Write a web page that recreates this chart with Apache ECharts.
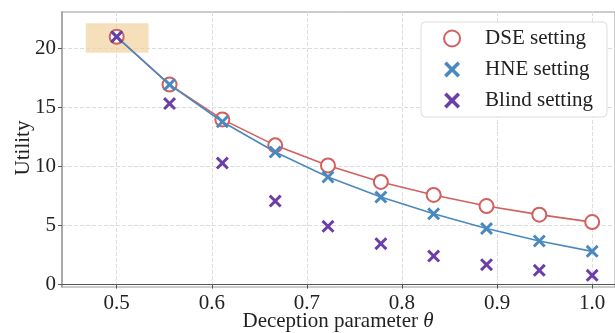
<!DOCTYPE html>
<html>
<head>
<meta charset="utf-8">
<script src="https://cdn.jsdelivr.net/npm/echarts@6/dist/echarts.min.js"></script>
<style>
  html, body { margin: 0; padding: 0; background: #fff; }
  #chart { width: 615px; height: 333px; }
</style>
</head>
<body>
<div id="chart"></div>
<script>
// deception parameter values
const thetas = [0.5, 0.5556, 0.6111, 0.6667, 0.7222, 0.7778, 0.8333, 0.8889, 0.9444, 1.0]
const dseUtility = [21.0, 16.95, 14.0, 11.8, 10.1, 8.7, 7.6, 6.66, 5.93, 5.3]
const hneUtility = [21.0, 16.95, 13.8, 11.24, 9.12, 7.42, 6.0, 4.75, 3.7, 2.82]
const blindUtility = [21.0, 15.34, 10.3, 7.08, 4.94, 3.47, 2.42, 1.69, 1.21, 0.79]
const xTicks = [0.5, 0.6, 0.7, 0.8, 0.9, 1.0]
const yTicks = [0, 5, 10, 15, 20]
// highlighted region around theta = 0.5
const highlightBox = [[0.468, 19.7], [0.533, 22.1]]

const FONT = '"Liberation Serif", serif'
const RED = '#d1605e'
const BLUE = '#4a89c0'
const PURPLE = '#6c3fa8'
const CROSS = 'path://M1.6,0 L5,3.4 L8.4,0 L10,1.6 L6.6,5 L10,8.4 L8.4,10 L5,6.6 L1.6,10 L0,8.4 L3.4,5 L0,1.6 Z'

const pairs = ys => thetas.map((t, i) => [t, ys[i]])

const chart = echarts.init(document.getElementById('chart'))

chart.setOption({
  animation: false,
  grid: {
    left: 62, right: 0, top: 12, bottom: 46,
    outerBoundsMode: 'none',
    containLabel: false,
    show: true, borderColor: '#999', borderWidth: 1
  },
  // axis titles placed by hand, the v6 auto-placement pushes them too far out
  graphic: [
    {
      type: 'text', x: 338, y: 321,
      style: {
        text: 'Deception parameter {i|θ}',
        font: '21px "Liberation Serif", serif', fill: '#222',
        align: 'center', verticalAlign: 'middle',
        rich: { i: { fontFamily: FONT, fontStyle: 'italic', fontSize: 21, fill: '#222', fontWeight: 'normal' } }
      }
    },
    {
      type: 'text', x: 23, y: 148, rotation: Math.PI / 2,
      style: {
        text: 'Utility', font: '21px "Liberation Serif", serif', fill: '#222',
        align: 'center', verticalAlign: 'middle'
      }
    }
  ],
  legend: {
    right: 8, top: 22,
    orient: 'vertical',
    backgroundColor: '#fff',
    borderColor: '#ddd', borderWidth: 1, borderRadius: 4,
    padding: [6, 14, 6, 22],
    itemWidth: 16, itemHeight: 16, itemGap: 10,
    textStyle: { fontFamily: FONT, fontSize: 21, color: '#222', padding: [0, 0, 0, 20] },
    data: [
      { name: 'DSE setting', icon: 'emptyCircle' },
      { name: 'HNE setting', icon: CROSS },
      { name: 'Blind setting', icon: CROSS }
    ]
  },
  xAxis: {
    type: 'value',
    min: 0.4425, max: 1.024,
    axisLine: { show: true, lineStyle: { color: '#555', width: 1.2 } },
    axisTick: { show: true, length: 4, lineStyle: { color: '#555' }, customValues: xTicks },
    axisLabel: {
      fontFamily: FONT, fontSize: 21, color: '#222', margin: 6,
      customValues: xTicks,
      formatter: v => v.toFixed(1)
    },
    splitLine: { show: true, lineStyle: { color: '#ddd', type: 'dashed', width: 1 } }
  },
  yAxis: {
    type: 'value',
    min: -0.2, max: 23.1,
    axisLine: { show: true, lineStyle: { color: '#aaa', width: 2 } },
    axisTick: { show: true, length: 4, lineStyle: { color: '#555' }, customValues: yTicks },
    axisLabel: {
      fontFamily: FONT, fontSize: 21, color: '#222', margin: 6,
      customValues: yTicks
    },
    splitLine: { show: true, lineStyle: { color: '#ddd', type: 'dashed', width: 1 } }
  },
  series: [
    {
      name: 'DSE setting',
      type: 'line',
      data: pairs(dseUtility),
      symbol: 'emptyCircle',
      symbolSize: 14,
      lineStyle: { color: RED, width: 1.6 },
      itemStyle: { color: RED, borderColor: RED, borderWidth: 1.6 },
      z: 2,
      markArea: {
        silent: true,
        itemStyle: { color: 'rgba(240, 208, 150, 0.65)', borderColor: 'rgba(240,220,180,0.8)', borderWidth: 1 },
        data: [[{ coord: highlightBox[0] }, { coord: highlightBox[1] }]]
      }
    },
    {
      name: 'HNE setting',
      type: 'line',
      data: pairs(hneUtility),
      symbol: CROSS,
      symbolSize: 13,
      lineStyle: { color: BLUE, width: 1.6 },
      itemStyle: { color: BLUE },
      z: 3
    },
    {
      name: 'Blind setting',
      type: 'scatter',
      data: pairs(blindUtility),
      symbol: CROSS,
      symbolSize: 13,
      itemStyle: { color: PURPLE, opacity: 1 },
      z: 4
    }
  ]
})
</script>
</body>
</html>
